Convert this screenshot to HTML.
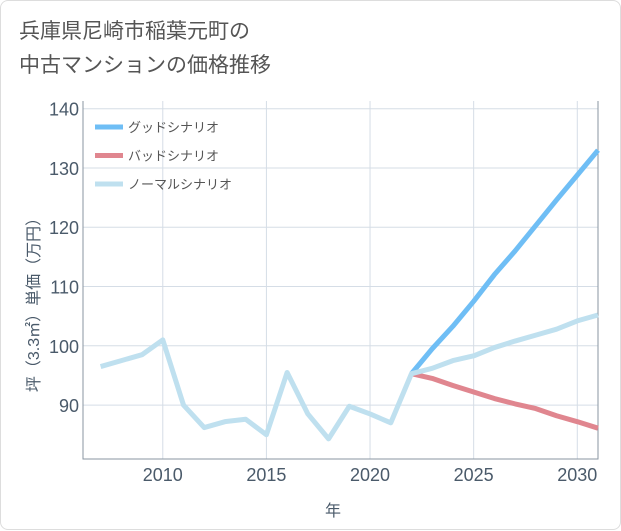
<!DOCTYPE html>
<html><head><meta charset="utf-8"><style>
body{margin:0;background:#fff;font-family:"Liberation Sans","Noto Sans CJK JP",sans-serif}
#wrap{position:relative;width:621px;height:530px;box-sizing:border-box;border:1px solid #ddd;border-radius:8px;background:#fff}
#title{position:absolute;left:18px;top:14px;font-size:21px;line-height:34px;color:#555}
svg{position:absolute;left:0;top:0}
</style></head><body>
<div id="wrap">
<div id="title">兵庫県尼崎市稲葉元町の<br>中古マンションの価格推移</div>
<svg id="chart" width="621" height="530"></svg>
</div>
<script>
const years=[2007,2008,2009,2010,2011,2012,2013,2014,2015,2016,2017,2018,2019,2020,2021,2022,2023,2024,2025,2026,2027,2028,2029,2030,2031];
const normal=[96.5,97.5,98.5,101,90,86.2,87.2,87.6,85,95.5,88.5,84.3,89.8,88.5,87,95.3,96.2,97.5,98.3,99.7,100.8,101.8,102.8,104.2,105.2];
const goodYears=[2022,2023,2024,2025,2026,2027,2028,2029,2030,2031];
const good=[95.3,99.5,103.3,107.5,112,116,120.3,124.6,128.8,133];
const bad=[95.3,94.5,93.3,92.2,91.1,90.2,89.4,88.2,87.2,86.1];
const xTicks=[2010,2015,2020,2025,2030];
const yTicks=[90,100,110,120,130,140];
const L=82,R=597,T=100,B=458,x0=2006.15,x1=2031,y0=80.9,y1=141.3;
const X=v=>L+(v-x0)/(x1-x0)*(R-L), Y=v=>B-(v-y0)/(y1-y0)*(B-T);
const s=document.getElementById('chart');const NS='http://www.w3.org/2000/svg';
function el(t,a,p){const e=document.createElementNS(NS,t);for(const k in a)e.setAttribute(k,a[k]);(p||s).appendChild(e);return e;}
yTicks.forEach(v=>{const l=el('line',{x1:L,x2:R,y1:Y(v),y2:Y(v),stroke:'#d5dde6','stroke-width':1});

const t=el('text',{x:L-4,y:Y(v)+7,'text-anchor':'end','font-size':18,fill:'#4a5a6a'});t.textContent=v;
});
xTicks.forEach(v=>{const l=el('line',{x1:X(v),x2:X(v),y1:T,y2:B,stroke:'#d5dde6','stroke-width':1});

const t=el('text',{x:X(v),y:B+22,'text-anchor':'middle','font-size':18,fill:'#4a5a6a'});t.textContent=v;
});
const ax=el('path',{d:`M${L},${T}V${B}H${R}V${T}`,fill:'none',stroke:'#8a96a2','stroke-width':1});

function line(xs,ys,c,n){const p=el('polyline',{points:xs.map((v,i)=>X(v)+','+Y(ys[i])).join(' '),fill:'none',stroke:c,'stroke-width':5,'stroke-linejoin':'round'});
}
line(goodYears,good,'#6fbef5','good-scenario-line');
line(goodYears,bad,'#e0868f','bad-scenario-line');
line(years,normal,'#bfe0ef','normal-scenario-line');
[['グッドシナリオ','#6fbef5'],['バッドシナリオ','#e0868f'],['ノーマルシナリオ','#bfe0ef']].forEach((d,i)=>{
const y=126+i*28.5;const g=el('g',{});
el('line',{x1:94,x2:122,y1:y,y2:y,stroke:d[1],'stroke-width':5},g);
const t=el('text',{x:127,y:y+5,'font-size':13,fill:'#555'},g);t.textContent=d[0];});
const yt=el('text',{transform:'translate(38,300) rotate(-90)','text-anchor':'middle','font-size':16,fill:'#4a5a6a'});yt.textContent='坪（3.3㎡）単価（万円）';

const xt=el('text',{x:332,y:515,'text-anchor':'middle','font-size':16,fill:'#4a5a6a'});xt.textContent='年';

</script>
</body></html>
